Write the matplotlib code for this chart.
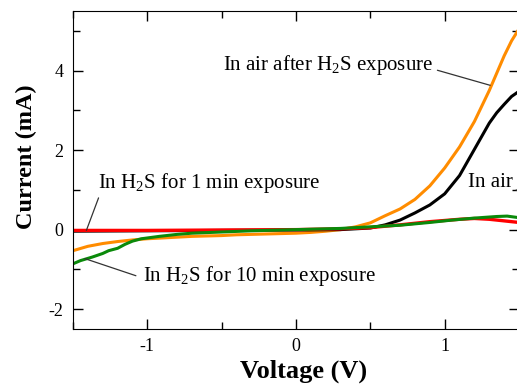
import matplotlib.pyplot as plt
from matplotlib.ticker import MultipleLocator

# I-V data (voltage in V, current in mA)
v_air_h2s = [-1.5, -1.4, -1.3, -1.2, -1.1, -1.0, -0.9, -0.8, -0.7, -0.6, -0.5, -0.4, -0.3,
             -0.2, -0.1, 0.0, 0.1, 0.2, 0.3, 0.4, 0.5, 0.6, 0.7, 0.8, 0.9, 1.0, 1.1, 1.2,
             1.3, 1.4, 1.45, 1.5]
i_air_h2s = [-0.53, -0.42, -0.35, -0.30, -0.26, -0.23, -0.21, -0.19, -0.17, -0.16, -0.15,
             -0.13, -0.12, -0.11, -0.10, -0.09, -0.07, -0.04, 0.00, 0.07, 0.17, 0.35, 0.52,
             0.76, 1.10, 1.55, 2.08, 2.72, 3.50, 4.37, 4.75, 5.05]

v_air = [-1.5, -1.0, -0.5, 0.0, 0.3, 0.5, 0.6, 0.7, 0.8, 0.9, 1.0, 1.1, 1.2, 1.3, 1.35,
         1.4, 1.45, 1.5]
i_air = [-0.04, -0.03, -0.02, -0.01, 0.0, 0.04, 0.12, 0.24, 0.42, 0.62, 0.90, 1.36, 2.02,
         2.68, 2.94, 3.15, 3.35, 3.48]

v_1min = [-1.5, -1.0, -0.5, 0.0, 0.3, 0.5, 0.7, 0.9, 1.1, 1.2, 1.3, 1.4, 1.5]
i_1min = [-0.02, -0.02, -0.01, 0.0, 0.02, 0.05, 0.12, 0.20, 0.26, 0.28, 0.26, 0.22, 0.18]

v_10min = [-1.5, -1.45, -1.37, -1.3, -1.26, -1.2, -1.15, -1.1, -1.04, -0.92, -0.8, -0.7,
           -0.5, -0.3, 0.0, 0.3, 0.5, 0.7, 0.9, 1.05, 1.2, 1.35, 1.42, 1.5]
i_10min = [-0.86, -0.78, -0.69, -0.60, -0.53, -0.47, -0.37, -0.29, -0.23, -0.17, -0.12,
           -0.09, -0.06, -0.03, 0.0, 0.03, 0.07, 0.11, 0.18, 0.24, 0.29, 0.33, 0.34, 0.30]

plt.rcParams['font.family'] = ['Liberation Serif', 'DejaVu Serif']
plt.rcParams['mathtext.fontset'] = 'custom'
plt.rcParams['mathtext.rm'] = 'Liberation Serif'

fig = plt.figure(figsize=(5.17, 3.87), dpi=100)
ax = fig.add_axes([0.1412, 0.1499, 0.8627, 0.8217])

ax.plot(v_air_h2s, i_air_h2s, color='#ff8c00', lw=2.2)
ax.plot(v_air, i_air, color='black', lw=2.2)
ax.plot(v_1min, i_1min, color='#ff0000', lw=2.4)
ax.plot(v_10min, i_10min, color='#0a8a0a', lw=2.2)

ax.set_xlim(-1.5, 1.5)
ax.set_ylim(-2.5, 5.5)
ax.xaxis.set_minor_locator(MultipleLocator(0.5))
ax.yaxis.set_minor_locator(MultipleLocator(1))
ax.set_xticks([-1, 0, 1])
ax.set_xticklabels(['-1', '0', '1'])
ax.set_yticks([-2, 0, 2, 4])
ax.set_yticklabels(['-2', '0', '2', '4'])
ax.tick_params(which='both', direction='in', top=True, right=True, labelsize=13, width=1)
ax.tick_params(which='major', length=7)
ax.tick_params(which='minor', length=5)
ax.tick_params(axis='x', pad=6.5)
ax.tick_params(axis='y', pad=7)

ax.set_xlabel('Voltage (V)', fontsize=19, fontweight='bold')
ax.xaxis.set_label_coords(0.516, -0.095)
ax.set_ylabel('Current (mA)', fontsize=17.5, fontweight='bold')
ax.yaxis.set_label_coords(-0.081, 0.541)

lead = dict(arrowstyle='-', color='#333333', lw=0.9, shrinkA=0, shrinkB=0)
ax.annotate('In air after H$_2$S exposure', xy=(1.306, 3.63), xytext=(-0.49, 4.13),
            fontsize=15, va='center', ha='left', arrowprops=dict(lead, relpos=(1.02, 0.3)))
ax.annotate('In H$_2$S for 1 min exposure', xy=(-1.41, -0.02), xytext=(-1.33, 1.17),
            fontsize=15, va='center', ha='left', arrowprops=dict(lead, relpos=(0.01, 0.1)))
ax.annotate('In H$_2$S for 10 min exposure', xy=(-1.42, -0.73), xytext=(-1.03, -1.16),
            fontsize=15, va='center', ha='left', arrowprops=dict(lead, relpos=(-0.03, 0.5)))
ax.annotate('In air', xy=(1.75, 0.95), xytext=(1.16, 1.18), annotation_clip=False,
            fontsize=15, va='center', ha='left', arrowprops=dict(lead, relpos=(1.0, 0.12)))

fig.savefig('out.png', dpi=100)
